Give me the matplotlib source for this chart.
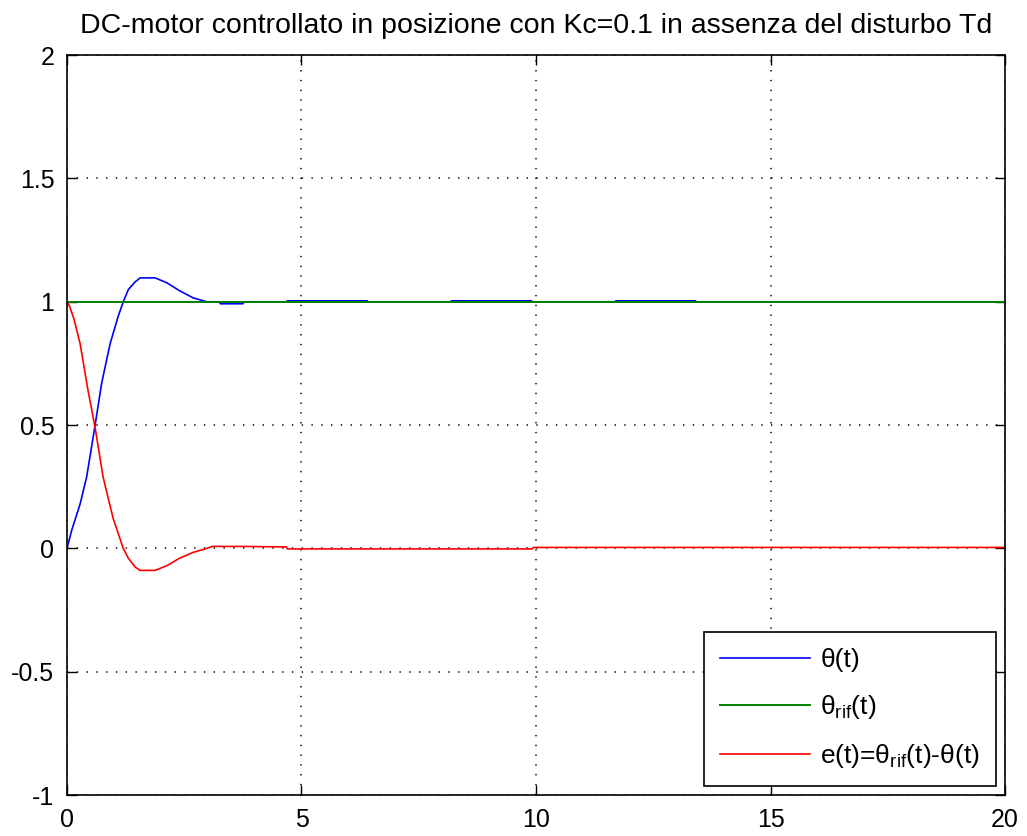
import matplotlib
matplotlib.use('Agg')
import matplotlib.pyplot as plt

# font setup: Arial-like sans
plt.rcParams['font.family'] = ['Liberation Sans', 'DejaVu Sans']
plt.rcParams['mathtext.fontset'] = 'custom'
plt.rcParams['mathtext.rm'] = 'Liberation Sans'
plt.rcParams['mathtext.it'] = 'Liberation Sans'

# data
t_theta = [0, 0.1, 0.28, 0.42, 0.6, 0.74, 0.92, 1.09, 1.2, 1.31, 1.45, 1.56,
           1.88, 2.13, 2.4, 2.69, 2.98, 3.25, 3.27, 3.75, 3.77, 4.68, 4.7,
           6.4, 6.42, 8.18, 8.2, 9.9, 9.92, 11.68, 11.7, 13.4, 13.42, 20]
theta = [0, 0.073, 0.18, 0.29, 0.5, 0.67, 0.83, 0.94, 1.0, 1.05, 1.08, 1.097,
         1.097, 1.077, 1.045, 1.016, 1.0, 1.0, 0.992, 0.992, 1.0, 1.0, 1.004,
         1.004, 1.0, 1.0, 1.004, 1.004, 1.0, 1.0, 1.004, 1.004, 1.0, 1.0]

t_rif = [0, 20]
theta_rif = [1, 1]

t_err = [0, 0.05, 0.15, 0.28, 0.45, 0.6, 0.77, 0.98, 1.2, 1.31, 1.45, 1.56,
         1.88, 2.13, 2.4, 2.69, 2.98, 3.1, 3.75, 4.68, 4.7, 9.92, 9.94, 20]
err = [1, 0.985, 0.93, 0.83, 0.64, 0.49, 0.29, 0.125, 0.0, -0.04, -0.075,
       -0.089, -0.089, -0.07, -0.04, -0.016, 0.0, 0.008, 0.008, 0.006, -0.002,
       -0.002, 0.004, 0.004]

x_ticks = [0, 5, 10, 15, 20]
y_ticks = [-1, -0.5, 0, 0.5, 1, 1.5, 2]
y_labels = ['-1', '-0.5', '0', '0.5', '1', '1.5', '2']

fig = plt.figure(figsize=(10.27, 8.36), dpi=100)
ax = fig.add_axes([0.0652, 0.049, 0.9134, 0.885])

ax.plot(t_theta, theta, color='#0000ff', lw=1.2, label=r'θ(t)')
ax.plot(t_rif, theta_rif, color='#008000', lw=1.4, label=r'θ$_{\mathrm{rif}}$(t)')
ax.plot(t_err, err, color='#ff0000', lw=1.2,
        label=r'e(t)=θ$_{\mathrm{rif}}$(t)-θ(t)')

ax.set_xlim(0, 20)
ax.set_ylim(-1, 2)
ax.set_xticks(x_ticks)
ax.set_yticks(y_ticks)
ax.set_yticklabels(y_labels)
ax.tick_params(direction='in', length=7, width=1, top=True, right=True,
               labelsize=18, pad=9, colors='black')
ax.grid(True, color='black', lw=1.1, linestyle=(0, (0.9, 5.5)))
for s in ax.spines.values():
    s.set_linewidth(1.2)

ax.set_title('DC-motor controllato in posizione con Kc=0.1 in assenza del disturbo Td',
             fontsize=20.5, pad=16)

leg = ax.legend(loc='lower right', fontsize=19, fancybox=False,
                edgecolor='black', framealpha=1, handlelength=3.4,
                handletextpad=0.4, borderaxespad=0.35, labelspacing=0.8,
                borderpad=0.6)
leg.get_frame().set_linewidth(1.2)

fig.savefig('out.png', dpi=100)
